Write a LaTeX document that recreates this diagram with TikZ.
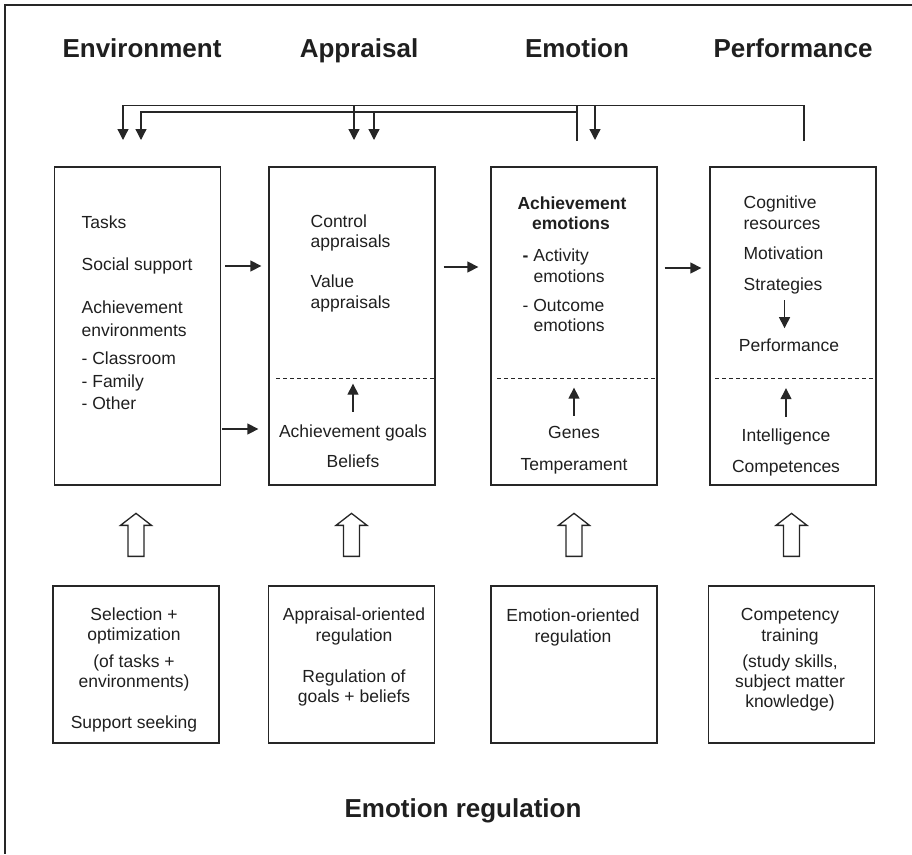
\documentclass[tikz,border=0pt]{standalone}
\usepackage{fontspec}
\setmainfont{Liberation Sans}
\usetikzlibrary{calc,positioning,arrows.meta}
\tikzset{main box/.style={rectangle,draw=black!85,line width=1.3pt,minimum width=166pt,inner sep=0pt},
head txt/.style={font=\fontsize{26}{30}\selectfont\bfseries,text=black!88,inner sep=0pt,anchor=base},
body txt/.style={font=\fontsize{17.5}{21}\selectfont,text=black!88,inner sep=0pt,anchor=base west},
mid txt/.style={body txt,anchor=base}}

\begin{document}
\begin{tikzpicture}[x=1pt,y=-1pt,line width=1.3pt,draw=black!85,
                    >={Triangle[length=11pt,width=11pt]},
                    hollow/.style={draw=black!85,line width=1.3pt,fill=white,line join=miter}]
\useasboundingbox (0,0) rectangle (912,854);

%DRAWING frame
 \draw (912,5) -- (5,5) -- (5,854);

%Column headings
 \node[head txt] (HeadEnv) at (142,57) {Environment};
 \node[head txt] (HeadApp) at (359,57) {Appraisal};
 \node[head txt] (HeadEmo) at (577,57) {Emotion};
 \node[head txt] (HeadPerf) at (793,57) {Performance};
 \node[head txt] (HeadReg) at (463,817) {Emotion regulation};

%Upper boxes
 \node[main box,minimum height=318pt] (env) at (137.5,326) {};
 \node[main box,minimum height=318pt] (app) at (352,326) {};
 \node[main box,minimum height=318pt] (emo) at (574,326) {};
 \node[main box,minimum height=318pt] (perf) at (793,326) {};

%Lower boxes
 \node[main box,minimum height=157pt] (envReg) at (136,664.5) {};
 \node[main box,minimum height=157pt] (appReg) at (351.5,664.5) {};
 \node[main box,minimum height=157pt] (emoReg) at (574,664.5) {};
 \node[main box,minimum height=157pt] (perfReg) at (791.5,664.5) {};

%Texts of the environment box
 \foreach \txt/\yy [count=\i] in {Tasks/228,Social support/270,Achievement/313,environments/336,- Classroom/364,- Family/387,- Other/409}
 {\node[body txt] (EnvTxt\i) at (81,\yy) {\txt};}

%Texts of the appraisal box
 \foreach \txt/\yy [count=\i] in {Control/227,appraisals/247,Value/287,appraisals/308}
 {\node[body txt] (AppTxt\i) at (310,\yy) {\txt};}
 \node[mid txt] (AppGoal) at (353,437) {Achievement goals};
 \node[mid txt] (AppBel) at (353,467) {Beliefs};

%Texts of the emotion box
 \node[mid txt,font=\fontsize{17.5}{21}\selectfont\bfseries] (EmoAch) at (572,209) {Achievement};
 \node[mid txt,font=\fontsize{17.5}{21}\selectfont\bfseries] (EmoEmo) at (571,229) {emotions};
 \node[body txt] (EmoAct) at (522,261) {\textbf{-} Activity};
 \node[body txt] (EmoAct2) at (533,282) {emotions};
 \node[body txt] (EmoOut) at (522,311) {- Outcome};
 \node[body txt] (EmoOut2) at (533,331) {emotions};
 \node[mid txt] (EmoGen) at (574,438) {Genes};
 \node[mid txt] (EmoTemp) at (574,470) {Temperament};

%Texts of the performance box
 \foreach \txt/\yy [count=\i] in {Cognitive/208,resources/229,Motivation/259,Strategies/290}
 {\node[body txt] (PerfTxt\i) at (743,\yy) {\txt};}
 \node[mid txt] (PerfRes) at (789,351) {Performance};
 \node[mid txt] (PerfInt) at (786,441) {Intelligence};
 \node[mid txt] (PerfComp) at (786,472) {Competences};

%Texts of the regulation boxes
 \foreach \txt/\yy [count=\i] in {Selection +/620,optimization/640,{(of tasks +}/667,{environments)}/687,Support seeking/728}
 {\node[mid txt] (EnvRegTxt\i) at (134,\yy) {\txt};}
 \foreach \txt/\yy [count=\i] in {Appraisal-oriented/620,regulation/641,Regulation of/682,goals + beliefs/702}
 {\node[mid txt] (AppRegTxt\i) at (354,\yy) {\txt};}
 \foreach \txt/\yy [count=\i] in {Emotion-oriented/621,regulation/642}
 {\node[mid txt] (EmoRegTxt\i) at (573,\yy) {\txt};}
 \foreach \txt/\yy [count=\i] in {Competency/620,training/641,{(study skills,}/667,subject matter/687,{knowledge)}/707}
 {\node[mid txt] (PerfRegTxt\i) at (790,\yy) {\txt};}

%Dashed separators
 \coordinate (DashY) at (0,378);
 \draw[dash pattern=on 4pt off 3pt,line width=1pt] ([xshift=8pt]app.west |- DashY) -- (app.east |- DashY);
 \draw[dash pattern=on 4pt off 3pt,line width=1pt] ([xshift=7pt]emo.west |- DashY) -- (emo.east |- DashY);
 \draw[dash pattern=on 4pt off 3pt,line width=1pt] ([xshift=6pt]perf.west |- DashY) -- ([xshift=-2pt]perf.east |- DashY);

%Arrows inside boxes
 \draw[->] ([yshift=12pt]AppGoal.north) -- ++(0,-28);
 \draw[->] ([yshift=9.5pt]EmoGen.north) -- ++(0,-28);
 \draw[->] ([yshift=10.5pt]PerfInt.north) -- ++(0,-29);
 \draw[->,shorten <=6pt,shorten >=9.5pt] ([xshift=1.5pt]PerfTxt4.south) -- ([xshift=1.5pt]PerfTxt4.south |- PerfRes.north);

%Arrows between boxes
 \coordinate (RowA) at (0,266);
 \coordinate (RowB) at (0,429);
 \coordinate (RowC) at (0,267);
 \coordinate (RowD) at (0,268);
 \draw[->,shorten <=4pt,shorten >=7pt] (env.east |- RowA) -- (app.west |- RowA);
 \draw[->,shorten <=1pt,shorten >=10pt] (env.east |- RowB) -- (app.west |- RowB);
 \draw[->,shorten <=8pt,shorten >=12pt] (app.east |- RowC) -- (emo.west |- RowC);
 \draw[->,shorten <=7pt,shorten >=8pt] (emo.east |- RowD) -- (perf.west |- RowD);

%Feedback lines on top
 \coordinate (FbA) at (0,105.7);
 \coordinate (FbB) at (0,112);
 \coordinate (PerfOut) at (804,141);
 \coordinate (EmoOut) at (577,141);
 \coordinate (EnvIn1) at (123,140);
 \coordinate (EnvIn2) at (141,140);
 \coordinate (AppIn1) at (354,140);
 \coordinate (AppIn2) at (374,140);
 \coordinate (EmoIn) at (595,140);
 \draw[->] (PerfOut) |- (EnvIn1 |- FbA) -- (EnvIn1);
 \draw[->] (AppIn1 |- FbA) -- (AppIn1);
 \draw[->] (EmoIn |- FbA) -- (EmoIn);
 \draw (EmoOut) -- (EmoOut |- FbA);
 \draw[->] (EmoOut |- FbB) -| (EnvIn2);
 \draw[->] (AppIn2 |- FbB) -- (AppIn2);

%Hollow arrows from regulation boxes
 \foreach \b in {envReg,appReg,emoReg,perfReg}
 {\draw[hollow] ($(\b.north)+(-8,-29)$) -- ++(0,-31) -- ++(-7.5,0) -- ++(15.5,-12) -- ++(15.5,12) -- ++(-7.5,0) -- ++(0,31) -- cycle;}

\end{tikzpicture}
\end{document}
